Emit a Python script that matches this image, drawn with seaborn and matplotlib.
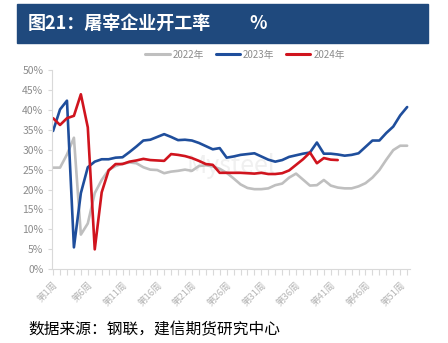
import numpy as np
import pandas as pd
import matplotlib
matplotlib.use("Agg")
import matplotlib.pyplot as plt
import seaborn as sns
from matplotlib.patches import Rectangle
from matplotlib.lines import Line2D

# ---- data ----
weeks = list(range(1, 53))
y2022 = [25.5, 25.5, 28.8, 33.0, 8.7, 11.5, 19.1, 22.4, 24.9, 25.9,
         26.5, 26.8, 26.6, 25.6, 25.0, 24.9, 24.1, 24.5, 24.7, 25.0,
         24.7, 25.9, 26.1, 25.8, 25.2, 24.2, 22.8, 21.3, 20.4, 20.1,
         20.1, 20.3, 21.1, 21.5, 23.0, 24.0, 22.5, 21.0, 21.1, 22.4,
         21.0, 20.5, 20.3, 20.3, 20.8, 21.6, 23.0, 24.9, 27.5, 29.9,
         31.0, 31.0]
y2023 = [34.7, 40.1, 42.3, 5.5, 19.1, 25.6, 27.0, 27.6, 27.6, 28.0,
         28.1, 29.4, 30.8, 32.3, 32.5, 33.2, 33.9, 33.2, 32.4, 32.5,
         32.3, 31.7, 30.9, 30.1, 30.4, 28.0, 28.3, 28.7, 28.9, 29.1,
         28.3, 27.5, 27.0, 27.4, 28.2, 28.6, 29.0, 29.3, 31.8, 29.0,
         29.0, 28.8, 28.5, 28.7, 29.1, 30.7, 32.3, 32.3, 34.2, 35.8,
         38.6, 40.7]
y2024 = [37.9, 36.2, 37.9, 38.5, 43.9, 35.6, 5.0, 19.3, 24.8, 26.4,
         26.4, 27.0, 27.3, 27.7, 27.4, 27.3, 27.2, 28.9, 28.7, 28.4,
         27.9, 27.2, 26.4, 26.2, 24.2, 24.2, 24.2, 24.2, 24.1, 24.0,
         24.2, 23.9, 23.9, 24.1, 24.8, 26.2, 27.6, 29.3, 26.6, 27.9,
         27.5, 27.4]
series_names = ["2022年", "2023年", "2024年"]
colors = ["#BFBFBF", "#1F4E9C", "#D0141E"]
tick_weeks = [1, 6, 11, 16, 21, 26, 31, 36, 41, 46, 51]
tick_labels = ["第%d周" % w for w in tick_weeks]
yticks = [0, 5, 10, 15, 20, 25, 30, 35, 40, 45, 50]

rows = []
for name, vals in zip(series_names, [y2022, y2023, y2024]):
    for w, v in zip(weeks, vals):
        rows.append({"week": w, "value": v, "year": name})
df = pd.DataFrame(rows)

sns.set_theme(style="white")
plt.rcParams["font.family"] = ["Noto Sans CJK SC", "DejaVu Sans"]

fig = plt.figure(figsize=(4.48, 3.43), dpi=100)
ax = fig.add_axes([0.1154, 0.2149, 0.915 - 0.1154, 0.796 - 0.2149])

# watermark
ax.text(0.5, 0.52, "Mysteel", transform=ax.transAxes, ha="center",
        va="center", fontsize=18, color="#F0F0F0", zorder=0)

sns.lineplot(data=df, x="week", y="value", hue="year",
             palette=dict(zip(series_names, colors)), linewidth=1.9,
             ax=ax, legend=False, sort=False)

ax.set_xlim(0.8, 52.4)
ax.set_ylim(0, 50)
ax.set_xlabel("")
ax.set_ylabel("")
for s in ["top", "right"]:
    ax.spines[s].set_visible(False)
for s in ["left", "bottom"]:
    ax.spines[s].set_color("#D9D9D9")
    ax.spines[s].set_linewidth(0.8)

ax.set_yticks(yticks)
ax.set_yticklabels(["%d%%" % v for v in yticks])
ax.set_xticks(weeks, minor=True)
ax.set_xticks(tick_weeks)
ax.set_xticklabels(tick_labels, rotation=45, ha="right", va="top",
                   rotation_mode="anchor")
ax.tick_params(axis="y", which="both", left=True, length=3, width=0.8,
               color="#D9D9D9", labelsize=7.5, labelcolor="#8C8C8C", pad=3)
ax.tick_params(axis="x", which="both", bottom=True, length=4, width=0.8,
               color="#D9D9D9", labelsize=6.8, labelcolor="#B5B5B5", pad=4)

# legend
handles = [Line2D([], [], color=c, lw=2.2) for c in colors]
fig.legend(handles, series_names, loc="center", bbox_to_anchor=(0.547, 0.84),
           ncol=3, frameon=False, fontsize=7, handlelength=2.5,
           handletextpad=0.3, columnspacing=1.2, labelcolor="#8C8C8C")

# title banner
fig.patches.append(Rectangle((0.038, 0.875), 0.917, 0.113,
                             transform=fig.transFigure, color="#1F497D",
                             zorder=0))
fig.text(0.0625, 0.932, "图21：屠宰企业开工率", color="white",
         fontsize=13, fontweight="bold", va="center", ha="left")
fig.text(0.556, 0.932, "%", color="white",
         fontsize=13, fontweight="bold", va="center", ha="left")

# source
fig.text(0.0625, 0.038, "数据来源：钢联，建信期货研究中心", color="black",
         fontsize=11.3, style="italic", va="center", ha="left")

fig.savefig("out.png", dpi=100)
